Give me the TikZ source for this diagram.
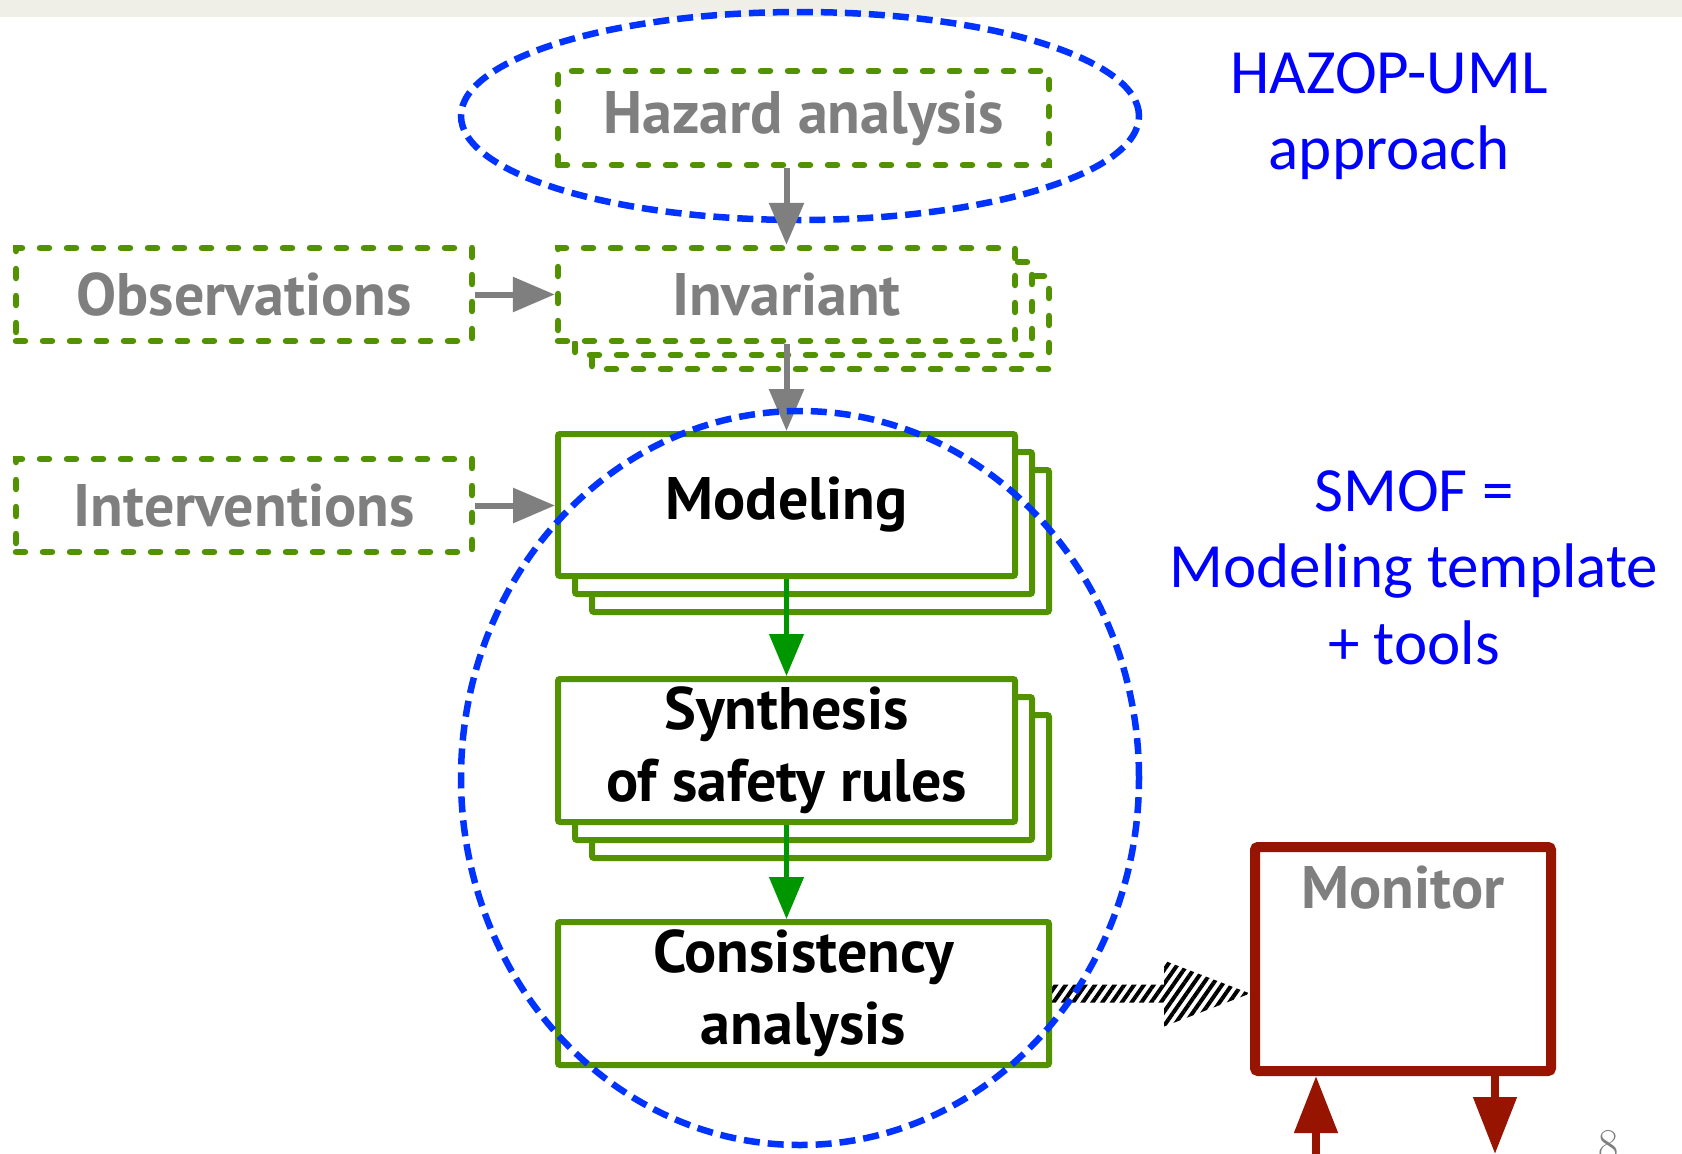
\documentclass[tikz,border=0pt]{standalone}
\usepackage{fontspec}
\newfontfamily\boxfont{PT Sans}
\newfontfamily\calfont{Carlito}
\usetikzlibrary{shapes.geometric,arrows.meta,patterns.meta}
\definecolor{bgreen}{RGB}{82,145,0}
\definecolor{agreen}{RGB}{0,150,0}
\definecolor{ebblue}{RGB}{0,51,255}
\definecolor{tblue}{RGB}{0,0,255}
\definecolor{tgrey}{RGB}{127,127,127}
\definecolor{mred}{RGB}{150,20,0}
\definecolor{band}{RGB}{239,239,232}
\tikzset{
  boxtext/.style={font=\boxfont\bfseries\fontsize{60}{72}\selectfont, align=center, inner sep=0pt},
  dashline/.style={draw=bgreen, line width=6.5pt, dash pattern=on 9pt off 18pt, line cap=round, fill=white},
  solidline/.style={draw=bgreen, line width=6pt, fill=white, rounded corners=2pt},
  dashbox/.style={dashline, boxtext, text=tgrey},
  solidbox/.style={solidline, boxtext, text=black},
  greyarrow/.style={draw=tgrey, line width=6pt, -{Triangle[length=42pt,width=34pt]}},
  greenarrow/.style={draw=agreen, line width=4.5pt, -{Triangle[length=42pt,width=34pt]}},
  redarrow/.style={draw=mred, line width=8pt, -{Triangle[length=57pt,width=42pt]}},
  blueell/.style={ellipse, draw=ebblue, line width=6.5pt, dash pattern=on 16pt off 8pt, inner sep=0pt},
  bluetext/.style={font=\calfont\fontsize{63}{76}\selectfont, text=tblue, inner sep=0pt, anchor=base},
}
\begin{document}
\begin{tikzpicture}[x=1pt,y=-1pt]
\clip (0,0) rectangle (1682,1154);
\fill[white] (0,0) rectangle (1682,1154);
\fill[band] (0,0) rectangle (1682,17);

% top ellipse
\node[blueell, minimum width=678pt, minimum height=208pt] (hazop) at (800,116) {};

% hazard analysis
\node[dashbox, minimum width=491pt, minimum height=94pt] (haz) at (803.5,118) {Hazard analysis};

% observations / interventions
\node[dashbox, minimum width=456pt, minimum height=93pt] (obs) at (244,294.5) {Observations};
\node[dashbox, minimum width=456pt, minimum height=93pt] (intv) at (244,505.5) {Interventions};

% invariant stack
\draw[dashline] (592,276) rectangle (1049,369);
\draw[dashline] (575,262) rectangle (1032,355);
\node[dashbox, minimum width=457pt, minimum height=93pt] (inv) at (786.5,294.5) {Invariant};

% modeling stack
\draw[solidline] (592,470) rectangle (1049,612);
\draw[solidline] (575,452) rectangle (1032,594);
\node[solidbox, minimum width=457pt, minimum height=142pt] (mod) at (786.5,505) {Modeling};

% synthesis stack
\draw[solidline] (592,715) rectangle (1049,858);
\draw[solidline] (575,697) rectangle (1032,840);
\node[solidbox, minimum width=457pt, minimum height=143pt] (syn) at (786.5,750.5) {Synthesis\\of safety rules};

% consistency
\node[solidbox, minimum width=491pt, minimum height=143pt] (cons) at (803.5,993.5) {Consistency\\analysis};

% monitor
\node[draw=mred, line width=10pt, fill=white, rounded corners=3pt, minimum width=296pt, minimum height=224pt, inner sep=0pt] (mon) at (1403,959) {};
\node[boxtext, text=tgrey, anchor=base] (montext) at (1403,908) {Monitor};

% arrows
\draw[greyarrow] (haz.south -| inv.north) -- (inv.north);
\draw[greyarrow] (obs.east) -- (inv.west);
\draw[greyarrow] (intv.east) -- (intv.east -| mod.west);
\draw[greyarrow] (inv.south) -- (mod.north);
\draw[greenarrow] (mod.south) -- (syn.north);
\draw[greenarrow] (syn.south) -- (syn.south |- cons.north);

% hatched arrow
\coordinate (hs) at (cons.east);
\coordinate (tip) at (mon.west |- hs);
\fill[pattern={Lines[angle=55,distance=8pt,line width=4pt]}, pattern color=black]
  ([yshift=9pt]hs) -- ([xshift=-86pt,yshift=9pt]tip) -- ([xshift=-86pt,yshift=33pt]tip) -- (tip)
  -- ([xshift=-86pt,yshift=-33pt]tip) -- ([xshift=-86pt,yshift=-9pt]tip) -- ([yshift=-9pt]hs) -- cycle;

% big ellipse
\node[blueell, minimum width=678pt, minimum height=734pt] (smof) at (800,778) {};

% red arrows
\coordinate (min) at (1316,1170);
\coordinate (mout) at (1495,1154);
\draw[redarrow] (min) -- (mon.south -| min);
\draw[redarrow] (mon.south -| mout) -- (mout);

% blue texts
\node[bluetext] (t1) at (1389,93) {HAZOP-UML};
\node[bluetext] (t2) at (1389,169) {approach};
\node[bluetext] (t3) at (1414,511) {SMOF =};
\node[bluetext] (t4) at (1414,587) {Modeling template};
\node[bluetext] (t5) at (1414,664) {+ tools};

% page number
\node[font=\fontsize{44}{44}\selectfont, text=tgrey, anchor=north, inner sep=0pt] (pg) at (1609,1130) {8};
\end{tikzpicture}
\end{document}
